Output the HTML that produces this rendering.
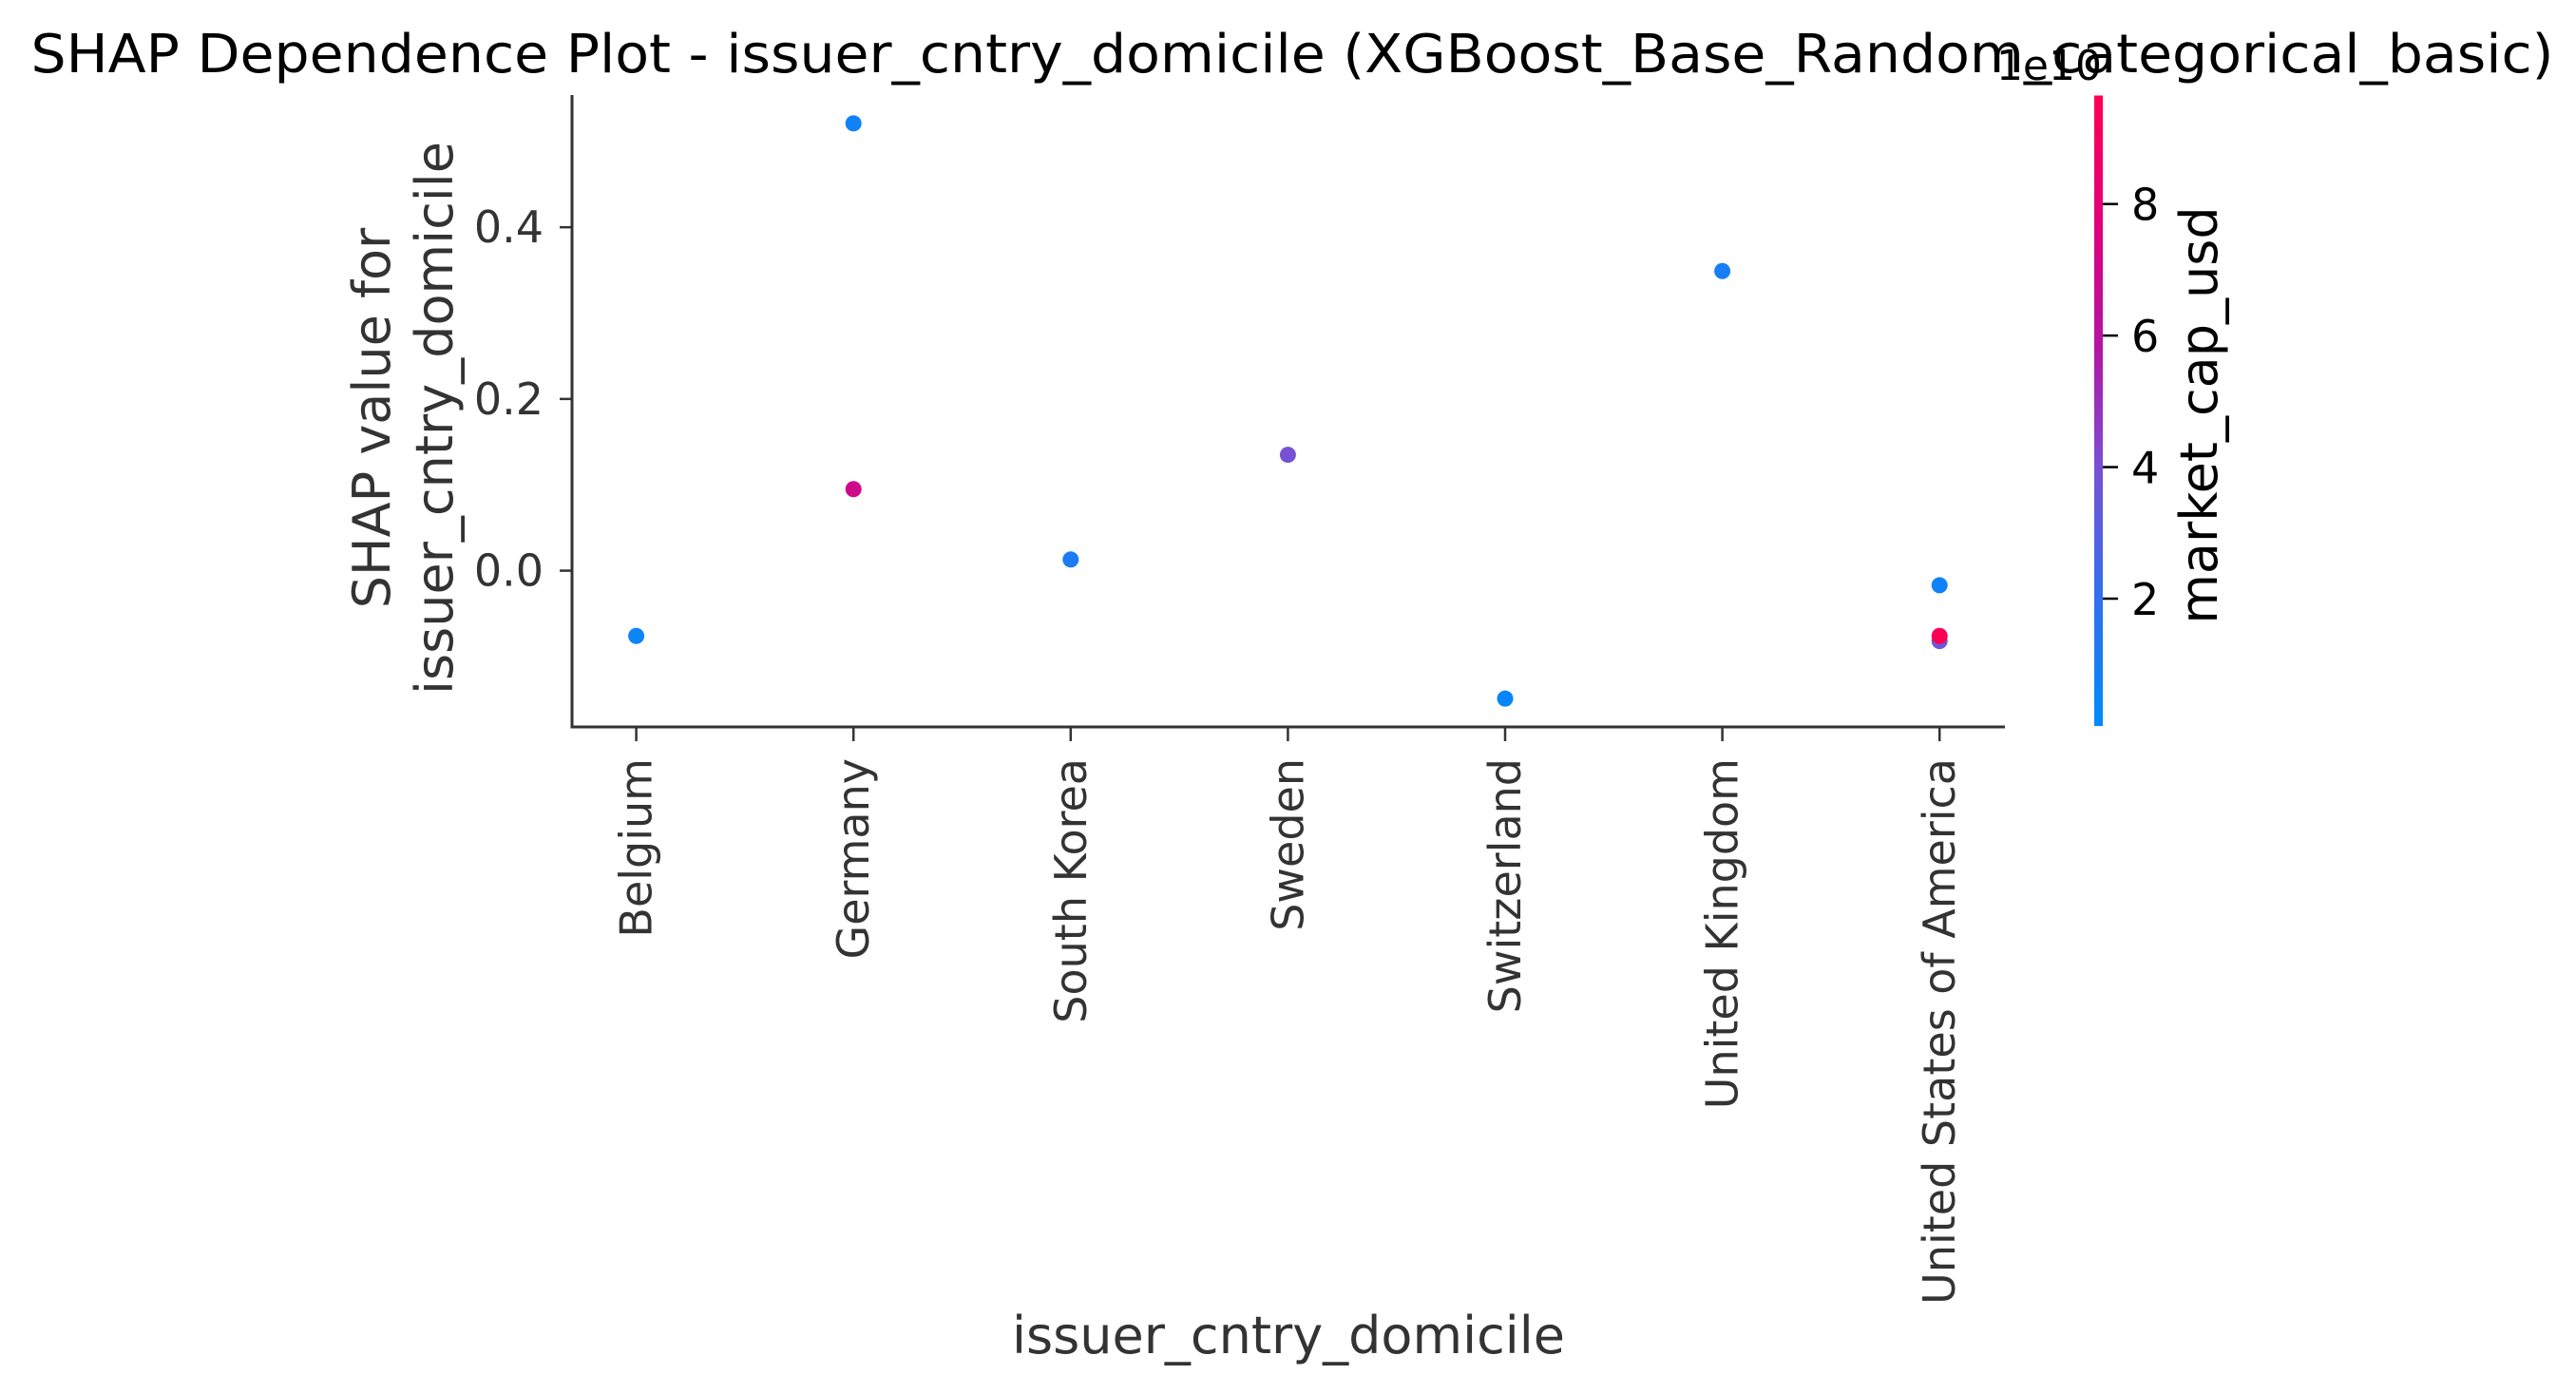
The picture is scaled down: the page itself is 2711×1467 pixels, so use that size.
<!DOCTYPE html>
<html><head><meta charset="utf-8"><style>
html,body{margin:0;padding:0;background:#fff;}
svg{display:block;font-family:"DejaVu Sans","Liberation Sans",sans-serif;}
</style></head><body>
<svg id="chart" width="2711" height="1467" viewBox="0 0 2711 1467" xmlns="http://www.w3.org/2000/svg">
<defs>
<linearGradient id="cbgrad" x1="0" y1="1" x2="0" y2="0">
<stop offset="0" stop-color="#008bfb"/>
<stop offset="0.2" stop-color="#3070ee"/>
<stop offset="0.4" stop-color="#7752d6"/>
<stop offset="0.6" stop-color="#b414a4"/>
<stop offset="0.8" stop-color="#e0007c"/>
<stop offset="1" stop-color="#ff0052"/>
</linearGradient>
</defs>
<text x="1360" y="76" text-anchor="middle" font-size="56" fill="#000" textLength="2655" lengthAdjust="spacingAndGlyphs">SHAP Dependence Plot - issuer_cntry_domicile (XGBoost_Base_Random_categorical_basic)</text>
<g id="axes"></g>
<g id="points"></g>
<g id="cbar"></g>
</svg>
<script>
const categories = ["Belgium","Germany","South Korea","Sweden","Switzerland","United Kingdom","United States of America"];
const pointCategory = [0, 1, 1, 2, 3, 4, 5, 6, 6, 6];
const shapValues = [-0.076, 0.521, 0.095, 0.013, 0.135, -0.149, 0.349, -0.017, -0.082, -0.076];
const marketCap = [0.5, 0.8, 7.0, 1.2, 3.9, 0.4, 1.0, 0.7, 3.6, 9.5];
const yTicks = [0.0, 0.2, 0.4];
const yTickLabels = ["0.0", "0.2", "0.4"];
const cbTicks = [2, 4, 6, 8];
const cbTickLabels = ["2", "4", "6", "8"];

const NS = "http://www.w3.org/2000/svg";
function mk(tag, attrs, parent, text){const e=document.createElementNS(NS,tag);for(const k in attrs)e.setAttribute(k,attrs[k]);if(text!==undefined)e.textContent=text;parent.appendChild(e);return e;}

const L=602, R=2110, T=100, B=765;
const yMin=-0.182, yMax=0.554;
const x0=669.6, dx=228.6;
function xScale(i){return x0+i*dx;}
function yScale(v){return B-(v-yMin)/(yMax-yMin)*(B-T);}
const cbMin=0.064, cbMax=9.65, cbT=100.5, cbB=764;
function cbScale(v){return cbB-(v-cbMin)/(cbMax-cbMin)*(cbB-cbT);}
const stops=[[0,[0,139,251]],[0.2,[48,112,238]],[0.4,[119,82,214]],[0.6,[180,20,164]],[0.8,[224,0,124]],[1,[255,0,82]]];
function colorFor(v){let t=(v-cbMin)/(cbMax-cbMin);t=Math.max(0,Math.min(1,t));
 for(let i=1;i<stops.length;i++){if(t<=stops[i][0]){const a=stops[i-1],b=stops[i];const f=(t-a[0])/(b[0]-a[0]);
 const c=a[1].map((x,j)=>Math.round(x+(b[1][j]-x)*f));return `rgb(${c[0]},${c[1]},${c[2]})`;}}return "rgb(255,0,82)";}

const ax=document.getElementById('axes');
const sp1=mk('line',{x1:L,y1:T,x2:L,y2:B+1.5,stroke:'#333',"stroke-width":3},ax);


const sp2=mk('line',{x1:L-1.5,y1:B,x2:R,y2:B,stroke:'#333',"stroke-width":3},ax);


yTicks.forEach((v,i)=>{const y=yScale(v);
 const t=mk('line',{x1:L-13,y1:y,x2:L,y2:y,stroke:'#333',"stroke-width":2.5},ax);
 
 
 const lb=mk('text',{x:L-30,y:y+16,"text-anchor":"end","font-size":46,fill:'#333'},ax,yTickLabels[i]);
 
 
});
categories.forEach((c,i)=>{const x=xScale(i);
 const t=mk('line',{x1:x,y1:B,x2:x,y2:B+15,stroke:'#333',"stroke-width":2.5},ax);
 
 
 const lb=mk('text',{x:0,y:0,"text-anchor":"end","font-size":46,fill:'#333',transform:`translate(${x+16},798) rotate(-90)`},ax,c);
 
 
});
const xl=mk('text',{x:1356,y:1424,"text-anchor":"middle","font-size":54,fill:'#333'},ax,"issuer_cntry_domicile");


const yl=mk('text',{x:0,y:0,"text-anchor":"middle","font-size":54,fill:'#333',transform:'translate(410,440) rotate(-90)'},ax);


mk('tspan',{x:0,dy:0},yl,"SHAP value for");
mk('tspan',{x:0,dy:66},yl,"issuer_cntry_domicile");

const pts=document.getElementById('points');
shapValues.forEach((v,i)=>{
 const c=mk('ellipse',{cx:xScale(pointCategory[i]),cy:yScale(v),rx:8.5,ry:8.5,fill:colorFor(marketCap[i])},pts);
 
 
});

const cb=document.getElementById('cbar');
const bar=mk('rect',{x:2204,y:cbT,width:9,height:cbB-cbT,fill:'url(#cbgrad)'},cb);


cbTicks.forEach((v,i)=>{const y=cbScale(v);
 const t=mk('line',{x1:2213,y1:y,x2:2229,y2:y,stroke:'#000',"stroke-width":2.5},cb);
 
 
 const lb=mk('text',{x:2243,y:y+17,"font-size":46,fill:'#000'},cb,cbTickLabels[i]);
 
 
});
const off=mk('text',{x:2212,y:84,"text-anchor":"end","font-size":44,fill:'#000'},cb,"1e10");


const cl=mk('text',{x:0,y:0,"text-anchor":"middle","font-size":54,fill:'#000',transform:'translate(2333,437) rotate(-90)'},cb,"market_cap_usd");


</script>
</body></html>
